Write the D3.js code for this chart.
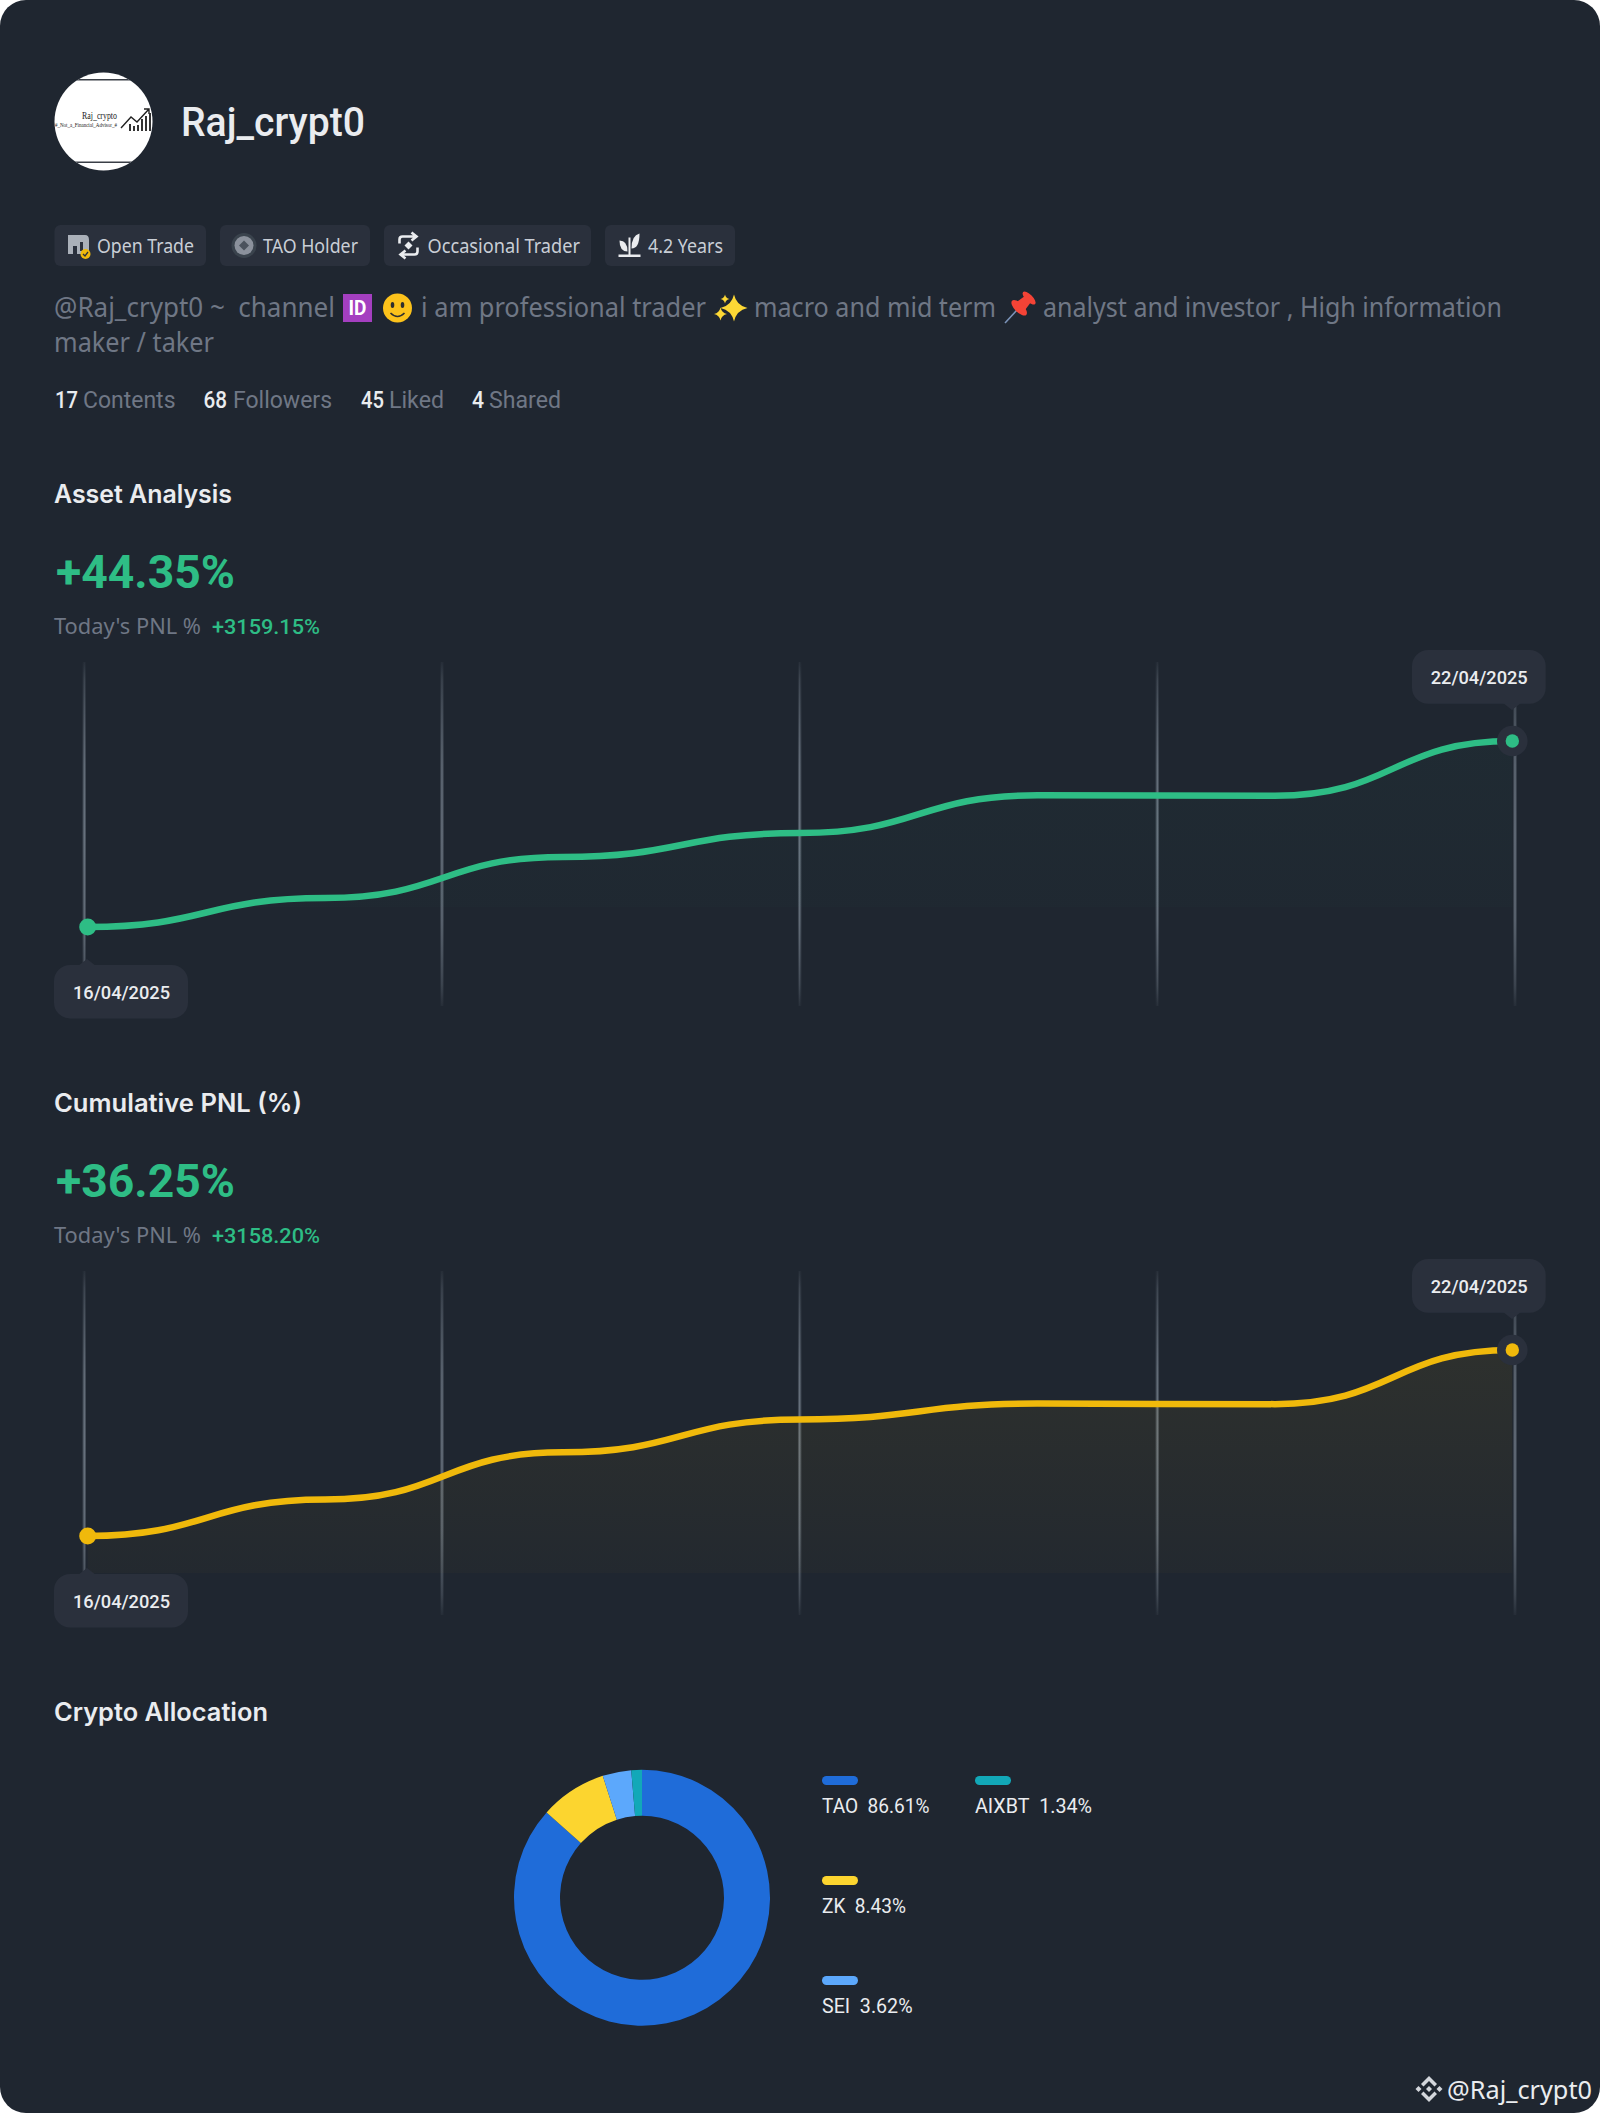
<!DOCTYPE html>
<html>
<head>
<meta charset="utf-8">
<style>
  html, body { margin: 0; padding: 0; background: #fff; }
  svg { display: block; }
</style>
<script src="https://cdn.jsdelivr.net/npm/d3@7"></script>
</head>
<body>
<div id="chart"></div>
<script>
// chart values
const dates = ['16/04/2025', '17/04/2025', '18/04/2025', '19/04/2025', '20/04/2025', '21/04/2025', '22/04/2025'];
const assetValues = [0, 6.9, 16.7, 22.4, 31.4, 31.3, 44.35];
const pnlValues = [0, 7.1, 16.3, 22.7, 25.8, 25.7, 36.25];
const gridTicks = [0, 1, 2, 3, 4];

const allocNames = ['TAO', 'ZK', 'SEI', 'AIXBT'];
const allocValues = [86.61, 8.43, 3.62, 1.34];
const allocColors = ['#1f6cd9', '#fcd52f', '#5ca8fc', '#12a8b8'];

const tagLabels = ['Open Trade', 'TAO Holder', 'Occasional Trader', '4.2 Years'];
const statCounts = ['17', '68', '45', '4'];
const statLabels = ['Contents', 'Followers', 'Liked', 'Shared'];

const W = 1600, H = 2113;
const BG = '#1f2630', CHIP = '#2a303c', TXT = '#eaecef', MUTED = '#6f7785', GREEN = '#2ebd85', GOLD = '#f0b90b';
const BODY = '"Noto Sans", Roboto, sans-serif', NUM = 'Roboto, sans-serif';

const svg = d3.select('#chart').append('svg').attr('width', W).attr('height', H);
const defs = svg.append('defs');

svg.append('rect').attr('width', W).attr('height', H).attr('rx', 26).attr('fill', BG);

// text with a fixed width, the original font is narrower than anything installed
function label(parent, str, x, y, width, size, color, opts) {
  opts = opts || {};
  return parent.append('text')
    .attr('x', x).attr('y', y)
    .attr('textLength', width).attr('lengthAdjust', 'spacingAndGlyphs')
    .attr('font-family', opts.font || NUM)
    .attr('font-weight', opts.weight || 400)
    .attr('font-size', size)
    .attr('fill', color)
    .text(str);
}

// --- header
const avatar = svg.append('g');
defs.append('clipPath').attr('id', 'avatarClip')
  .append('circle').attr('cx', 103.5).attr('cy', 121.5).attr('r', 49);
const avatarInner = avatar.append('g').attr('clip-path', 'url(#avatarClip)');
avatarInner.append('rect').attr('x', 54).attr('y', 72).attr('width', 100).attr('height', 100).attr('fill', '#fff');
[[79, 1.5], [161.5, 1.5]].forEach(function (d) {
  avatarInner.append('rect').attr('x', 54).attr('y', d[0]).attr('width', 100).attr('height', d[1]).attr('fill', '#3a3f47');
});
label(avatarInner, 'Raj_crypto', 82, 119, 35, 10, '#222', { font: '"Liberation Serif", serif' });
label(avatarInner, '#_Not_a_Financial_Advisor_#', 55, 126.5, 62, 6, '#222', { font: '"Liberation Serif", serif' });
avatarInner.append('path').attr('d', 'M121 128 L131 117 L137 122 L149 109 M144 109 L149 109 L149 114')
  .attr('fill', 'none').attr('stroke', '#222').attr('stroke-width', 1.4);
[[129, 124], [133, 126], [137, 125], [141, 119], [145, 116], [149, 113]].forEach(function (d) {
  avatarInner.append('rect').attr('x', d[0]).attr('y', d[1]).attr('width', 2).attr('height', 131 - d[1]).attr('fill', '#333');
});

label(svg, 'Raj_crypt0', 181, 136, 184, 40, TXT, { weight: 500 });

// tags
const tagBoxes = [[54.5, 151.5, 97, 97], [220, 150, 263, 95], [384, 207, 427.5, 152.5], [605, 130, 648, 75]];
tagLabels.forEach(function (t, i) {
  const b = tagBoxes[i];
  svg.append('rect').attr('x', b[0]).attr('y', 225).attr('width', b[1]).attr('height', 41).attr('rx', 6).attr('fill', CHIP);
  label(svg, t, b[2], 253, b[3], 20, '#c9ced6', { font: BODY });
});

// tag icons
const ic1 = svg.append('g').attr('transform', 'translate(68,235)');
ic1.append('path').attr('d', 'M0 0 H17 Q21 0 21 5 V19 H0 Z').attr('fill', '#aab0b9');
ic1.append('rect').attr('x', 5).attr('y', 11).attr('width', 4).attr('height', 8).attr('fill', CHIP);
ic1.append('rect').attr('x', 12).attr('y', 7).attr('width', 3).attr('height', 9).attr('fill', CHIP);
ic1.append('circle').attr('cx', 17.5).attr('cy', 19).attr('r', 5).attr('fill', GOLD);
ic1.append('path').attr('d', 'M15 19 L17 21 L20 17').attr('fill', 'none').attr('stroke', CHIP).attr('stroke-width', 1.3);

const ic2 = svg.append('g').attr('transform', 'translate(244,245.5)');
ic2.append('circle').attr('r', 12.5).attr('fill', '#3a434d');
ic2.append('circle').attr('r', 9.5).attr('fill', '#8b919c');
ic2.append('path').attr('d', 'M0 -5 L5 0 L0 5 L-5 0 Z').attr('fill', '#4b525d');

const ic3 = svg.append('g').attr('transform', 'translate(408.5,245.5)').attr('fill', 'none').attr('stroke', TXT).attr('stroke-width', 2.6);
ic3.append('path').attr('d', 'M-9 -2 V-6 Q-9 -9 -6 -9 H7 M3 -13 L8 -9 L3 -5');
ic3.append('path').attr('d', 'M9 2 V6 Q9 9 6 9 H-7 M-3 13 L-8 9 L-3 5');
ic3.append('path').attr('d', 'M0 -4 L4 0 L0 4 L-4 0 Z').attr('fill', TXT).attr('stroke', 'none');

const ic4 = svg.append('g').attr('transform', 'translate(629.5,245.5)').attr('fill', TXT);
ic4.append('rect').attr('x', -11).attr('y', 9).attr('width', 22).attr('height', 2.5);
ic4.append('rect').attr('x', -1).attr('y', -8).attr('width', 2).attr('height', 18);
ic4.append('path').attr('d', 'M-2 6 Q-10 6 -10 -5 Q-2 -5 -2 6 Z');
ic4.append('path').attr('d', 'M2 3 Q10 3 10 -12 Q2 -10 2 3 Z');

// bio line, split around the emoji
const bioParts = [
  ['@Raj_crypt0 ~  channel', 54, 281],
  ['i am professional trader', 421, 285],
  ['macro and mid term', 754, 242],
  ['analyst and investor , High information', 1043, 459]
];
bioParts.forEach(function (p) {
  label(svg, p[0], p[1], 317, p[2], 27, MUTED, { font: BODY }).attr('xml:space', 'preserve').style('white-space', 'pre');
});
label(svg, 'maker / taker', 54, 352, 160, 27, MUTED, { font: BODY });

// emoji as shapes, no emoji font here
const idBox = svg.append('g').attr('transform', 'translate(343,294)');
idBox.append('rect').attr('width', 29).attr('height', 28).attr('fill', '#a43fc0');
label(idBox, 'ID', 5.5, 21, 18, 20, '#fff', { weight: 700 });
const smile = svg.append('g').attr('transform', 'translate(397.5,308)');
smile.append('circle').attr('r', 14.5).attr('fill', '#fcc21b');
smile.append('ellipse').attr('cx', -5).attr('cy', -3).attr('rx', 1.8).attr('ry', 3).attr('fill', '#2f2f2f');
smile.append('ellipse').attr('cx', 5).attr('cy', -3).attr('rx', 1.8).attr('ry', 3).attr('fill', '#2f2f2f');
smile.append('path').attr('d', 'M-7 5 Q0 12 7 5').attr('fill', 'none').attr('stroke', '#2f2f2f').attr('stroke-width', 1.6);

const sparkle = function (x, y, r) {
  const k = r * 0.18;
  svg.append('path').attr('transform', 'translate(' + x + ',' + y + ')')
    .attr('d', 'M0 ' + -r + ' Q' + k + ' ' + -k + ' ' + r + ' 0 Q' + k + ' ' + k + ' 0 ' + r + ' Q' + -k + ' ' + k + ' ' + -r + ' 0 Q' + -k + ' ' + -k + ' 0 ' + -r + ' Z')
    .attr('fill', '#fdd835');
};
sparkle(734, 308, 13.5);
sparkle(720.5, 314, 6.5);
sparkle(725, 299, 4.5);

svg.append('path').attr('d', 'M1005 323 L1017 310').attr('stroke', '#7b93b8').attr('stroke-width', 1.6);
const pin = svg.append('g').attr('transform', 'translate(1022,305) rotate(45)').attr('fill', '#f44336');
pin.append('ellipse').attr('cx', 0).attr('cy', -10).attr('rx', 8.5).attr('ry', 3.5);
pin.append('path').attr('d', 'M-4 -10 H4 L6 3 H-6 Z');
pin.append('ellipse').attr('cx', 0).attr('cy', 4).attr('rx', 10).attr('ry', 4.5);

// stats
const statPos = [[55, 23, 83, 92.5], [203.5, 23.5, 233, 99], [361, 23, 389, 55], [472, 12, 489, 72]];
statCounts.forEach(function (c, i) {
  const p = statPos[i];
  label(svg, c, p[0], 408, p[1], 23, TXT, { weight: 500 });
  label(svg, statLabels[i], p[2], 408, p[3], 23, MUTED);
});

// --- the two line charts
const x = d3.scalePoint().domain(dates).range([87.7, 1512.3]);
const gridX = d3.scaleLinear().domain([0, 4]).range([84.3, 1515]);
const hi = defs.append('linearGradient').attr('id', 'gridFade').attr('x1', 0).attr('y1', 0).attr('x2', 0).attr('y2', 1);
hi.selectAll('stop').data([[0, 0.08], [0.05, 0.3], [0.3, 0.85], [0.5, 1], [0.75, 0.85], [0.94, 0.35], [1, 0.08]]).join('stop')
  .attr('offset', function (d) { return d[0]; })
  .attr('stop-color', '#6a7480')
  .attr('stop-opacity', function (d) { return d[1]; });

function lineChart(id, off, values, color, headline, today, title, titleW, fillBottom, fillTop, fillLow) {
  const g = svg.append('g').attr('transform', 'translate(0,' + off + ')');

  label(g, title, 54, 502.5, titleW, 25, TXT, { font: 'Inter, sans-serif', weight: 600 });
  label(g, headline, 56, 588, 179, 46, GREEN, { weight: 700 });
  label(g, "Today's PNL %", 54, 634, 147, 21, MUTED, { font: BODY });
  label(g, today, 212, 634, 108, 21, GREEN, { weight: 500 });

  const y = d3.scaleLinear().domain([0, values[values.length - 1]]).range([927, 741]);

  // grid, wider soft line with a thin lighter core
  g.selectAll('rect.soft').data(gridTicks).join('rect').attr('class', 'soft')
    .attr('x', function (d) { return gridX(d) - 1.7; }).attr('y', 662)
    .attr('width', 3.4).attr('height', 344).attr('fill', 'url(#gridFade)').attr('opacity', 0.55);
  g.selectAll('rect.core').data(gridTicks).join('rect').attr('class', 'core')
    .attr('x', function (d) { return gridX(d) - 0.6; }).attr('y', 662)
    .attr('width', 1.2).attr('height', 344).attr('fill', 'url(#gridFade)');

  // area stops flat at fillBottom, the start of the curve hangs below it
  const grad = defs.append('linearGradient').attr('id', id + 'Fill')
    .attr('gradientUnits', 'userSpaceOnUse').attr('x1', 0).attr('x2', 0).attr('y1', 741).attr('y2', fillBottom);
  grad.append('stop').attr('offset', 0).attr('stop-color', color).attr('stop-opacity', fillTop);
  grad.append('stop').attr('offset', 1).attr('stop-color', color).attr('stop-opacity', fillLow);
  defs.append('clipPath').attr('id', id + 'Clip')
    .append('rect').attr('x', 0).attr('y', 600).attr('width', W).attr('height', fillBottom - 600);

  const area = d3.area().curve(d3.curveBumpX)
    .x(function (d, i) { return x(dates[i]); })
    .y0(fillBottom)
    .y1(function (d) { return y(d); });
  const line = d3.line().curve(d3.curveBumpX)
    .x(function (d, i) { return x(dates[i]); })
    .y(function (d) { return y(d); });

  g.append('path').datum(values).attr('d', area).attr('fill', 'url(#' + id + 'Fill)').attr('clip-path', 'url(#' + id + 'Clip)');
  g.append('path').datum(values).attr('d', line).attr('fill', 'none').attr('stroke', color).attr('stroke-width', 6.5);

  const first = values[0], last = values[values.length - 1];
  g.append('circle').attr('cx', x(dates[0])).attr('cy', y(first)).attr('r', 8.5).attr('fill', color);
  g.append('circle').attr('cx', x(dates[6])).attr('cy', y(last)).attr('r', 15.3).attr('fill', CHIP);
  g.append('circle').attr('cx', x(dates[6])).attr('cy', y(last)).attr('r', 6.7).attr('fill', color);

  // date bubbles
  g.append('path').attr('d', 'M78 966 L87 959 L96 966 Z').attr('fill', CHIP);
  g.append('rect').attr('x', 54).attr('y', 965).attr('width', 134).attr('height', 53.5).attr('rx', 16).attr('fill', CHIP);
  label(g, dates[0], 73, 999, 97, 18, TXT, { weight: 500 });

  g.append('path').attr('d', 'M1503 703 L1512 710 L1521 703 Z').attr('fill', CHIP);
  g.append('rect').attr('x', 1412).attr('y', 650).attr('width', 133.7).attr('height', 53.7).attr('rx', 16).attr('fill', CHIP);
  label(g, dates[6], 1430.7, 684, 97, 18, TXT, { weight: 500 });
}

lineChart('asset', 0, assetValues, GREEN, '+44.35%', '+3159.15%', 'Asset Analysis', 178, 907, 0.03, 0.015);
lineChart('pnl', 609, pnlValues, GOLD, '+36.25%', '+3158.20%', 'Cumulative PNL (%)', 248, 964, 0.07, 0.02);

// --- allocation donut
label(svg, 'Crypto Allocation', 54, 1720.5, 214, 25, TXT, { font: 'Inter, sans-serif', weight: 600 });

const pie = d3.pie().sort(null);
const arc = d3.arc().innerRadius(82).outerRadius(128);
svg.append('g').attr('transform', 'translate(642,1897.7)')
  .selectAll('path').data(pie(allocValues)).join('path')
  .attr('d', arc)
  .attr('fill', function (d, i) { return allocColors[i]; });

const legendPos = [[822, 1776, 107.5], [822, 1876, 84], [822, 1976, 90.5], [975, 1776, 117]];
allocNames.forEach(function (n, i) {
  const p = legendPos[i];
  svg.append('rect').attr('x', p[0]).attr('y', p[1]).attr('width', 36).attr('height', 9).attr('rx', 4.5).attr('fill', allocColors[i]);
  label(svg, n + '\u00a0\u00a0' + allocValues[i].toFixed(2) + '%', p[0], p[1] + 36.7, p[2], 20, TXT, { weight: 400 });
});

// --- watermark
const mark = svg.append('g').attr('transform', 'translate(1429,2089)').attr('fill', '#d4d7dc');
mark.append('path').attr('d', 'M0 -13 L8 -5 L5.5 -2.5 L0 -8 L-5.5 -2.5 L-8 -5 Z');
mark.append('path').attr('d', 'M0 13 L8 5 L5.5 2.5 L0 8 L-5.5 2.5 L-8 5 Z');
mark.append('path').attr('d', 'M0 -3 L3 0 L0 3 L-3 0 Z');
mark.append('path').attr('d', 'M-10.5 -3 L-7.5 0 L-10.5 3 L-13.5 0 Z');
mark.append('path').attr('d', 'M10.5 -3 L13.5 0 L10.5 3 L7.5 0 Z');
label(svg, '@Raj_crypt0', 1447, 2099, 145, 26, TXT, { font: BODY });
</script>
</body>
</html>
